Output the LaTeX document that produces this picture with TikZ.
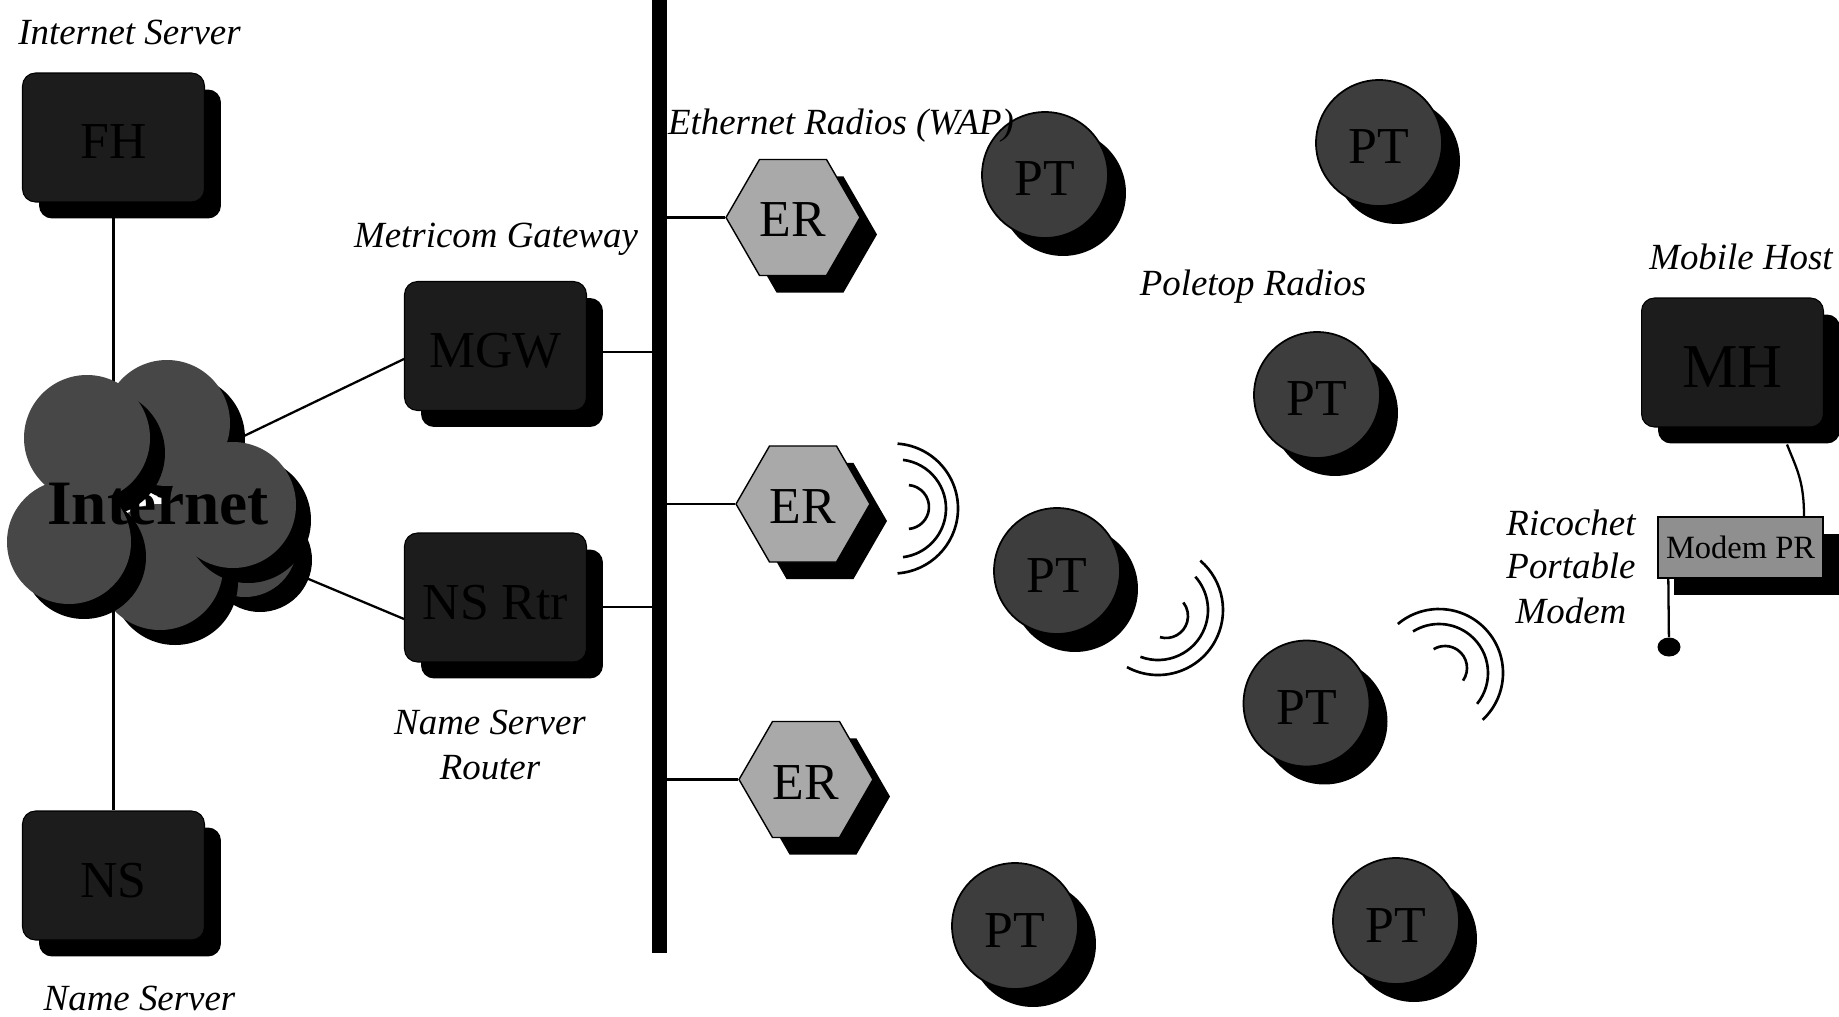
\documentclass[tikz,border=0pt]{standalone}
\usepackage{fontspec}
\setmainfont{Liberation Serif}
\usetikzlibrary{shapes.geometric,shadows,calc,backgrounds}

\definecolor{hostgray}{HTML}{1C1C1C}
\definecolor{polegray}{HTML}{3D3D3D}
\definecolor{cloudgray}{HTML}{474747}
\definecolor{radiogray}{HTML}{A9A9A9}
\definecolor{modemgray}{HTML}{8F8F8F}

\newcommand\devfont{\fontsize{29.5}{30}\selectfont}
\newcommand\lblfont{\fontsize{21}{24}\selectfont\itshape}

\tikzset{
  shadowed/.style={drop shadow={shadow xshift=#1, shadow yshift=-#1, fill=black, opacity=1}},
  host/.style={draw=black, line width=0.6pt, fill=hostgray, rounded corners=0.26cm,
    minimum width=3.64cm, minimum height=2.58cm, inner sep=0pt, font=\devfont,
    text height=0.86cm, text depth=0pt, shadowed=0.33cm},
  pole/.style={circle, draw=black, line width=1pt, fill=polegray, minimum size=2.52cm,
    inner sep=0pt, font=\devfont, text height=0.84cm, text depth=0pt, shadowed=0.36cm},
  radio/.style={regular polygon, regular polygon sides=6, draw=black, line width=0.8pt,
    fill=radiogray, minimum size=2.68cm, inner sep=0pt, font=\devfont,
    text height=0.78cm, text depth=0pt, shadowed=0.34cm},
  wire/.style={line width=1.3pt},
  wave/.style={line width=1.5pt},
  caption/.style={anchor=base, inner sep=0pt, font=\lblfont},
}

\begin{document}
\begin{tikzpicture}[x=0.02cm, y=-0.02cm]
\useasboundingbox (0,0) rectangle (1839,1017);

% the Internet cloud: overlapping shaded discs
\foreach \cx/\cy/\r in {167/423/63, 245/545/52, 160/567/63, 233/505/63, 87/438/63, 69/542/62} {
  \fill[black] (\cx+15,\cy+15) circle[radius=\r];
  \fill[cloudgray] (\cx,\cy) circle[radius=\r];
}
\node[font=\fontsize{36}{40}\selectfont\bfseries, inner sep=0pt] (internet) at (158,504) {Internet};
\coordinate (cloudNE) at (244,436);
\coordinate (cloudSE) at (299,575);

% wired hosts
\node[host] (fh)  at (113.5,137.5) {FH};
\node[host] (mgw) at (495.5,346)   {MGW};
\node[host] (nsr) at (495.5,597.5) {NS Rtr};
\node[host] (ns)  at (113.5,875.5) {NS};

% Ethernet backbone
\coordinate (bustop) at (659.5,0);
\coordinate (busbot) at (659.5,953);
\draw[line width=8.5pt] (bustop) -- (busbot);

% Ethernet radios
\node[radio] (er1) at (793,217.5) {ER};
\node[radio] (er2) at (803,504)   {ER};
\node[radio] (er3) at (806,779.5) {ER};

% poletop radios
\node[pole] (pt1) at (1045,175)    {PT};
\node[pole] (pt2) at (1379,143)    {PT};
\node[pole] (pt3) at (1317,395)    {PT};
\node[pole] (pt4) at (1057,571)    {PT};
\node[pole] (pt5) at (1306.5,703.5) {PT};
\node[pole] (pt6) at (1015,926)    {PT};
\node[pole] (pt7) at (1396,921)    {PT};

% mobile host and its modem
\node[host, font=\fontsize{35.5}{36}\selectfont, text height=1.0cm] (mh) at (1732.5,362.5) {MH};
\node[draw=black, line width=0.8pt, fill=modemgray, minimum width=3.3cm, minimum height=1.22cm,
  inner sep=0pt, font=\fontsize{18.5}{20}\selectfont,
  drop shadow={shadow xshift=0.32cm, shadow yshift=-0.34cm, fill=black, opacity=1}]
  (modem) at (1740.5,547.5) {Modem PR};
\node[ellipse, fill=black, minimum width=0.46cm, minimum height=0.38cm, inner sep=0pt] (tip) at (1669,647) {};

% radio waves
\draw[wave] ([shift={(-86:65)}]893,508.5) arc[start angle=-86, end angle=86, radius=65];
\draw[wave] ([shift={(-83:49)}]897,508.5) arc[start angle=-83, end angle=83, radius=49];
\draw[wave] ([shift={(-85:22)}]907,507) arc[start angle=-85, end angle=85, radius=22];

\draw[wave] ([shift={(118.5:65)}]1158,610) arc[start angle=118.5, end angle=-49.4, radius=65];
\draw[wave] ([shift={(110.6:50)}]1158,610) arc[start angle=110.6, end angle=-41.7, radius=50];
\draw[wave] ([shift={(106:22)}]1166,616) arc[start angle=106, end angle=-38, radius=22];

\draw[wave] ([shift={(47:64)}]1439,673) arc[start angle=47, end angle=-130, radius=64];
\draw[wave] ([shift={(39:49)}]1439,673) arc[start angle=39, end angle=-122, radius=49];
\draw[wave] ([shift={(35:22)}]1445,668) arc[start angle=35, end angle=-121, radius=22];

% captions
\node[caption] (capfh)  at (129.5,45)  {Internet Server};
\node[caption] (capmgw) at (496,247)   {Metricom Gateway};
\node[caption] (caper)  at (841,134)   {Ethernet Radios (WAP)};
\node[caption] (cappt)  at (1253,295)  {Poletop Radios};
\node[caption] (capmh)  at (1741,269)  {Mobile Host};
\node[caption] (caprm1) at (1571,535)  {Ricochet};
\node[caption] (caprm2) at (1571,578)  {Portable};
\node[caption] (caprm3) at (1571,623)  {Modem};
\node[caption] (capnr1) at (490,734)   {Name Server};
\node[caption] (capnr2) at (490,779)   {Router};
\node[caption] (capns)  at (139.5,1010) {Name Server};

% wiring, kept behind the shapes
\begin{pgfonlayer}{background}
  \draw[wire] (fh.south) -- (ns.north);
  \draw[wire] (cloudNE) -- ($(mgw.west)+(0,13)$);
  \draw[wire] (cloudSE) -- ($(nsr.west)+(0,21.5)$);
  \draw[wire] ($(mgw.east)+(0,6)$) coordinate (mgwout) -- (mgwout -| bustop);
  \draw[wire] ($(nsr.east)+(0,9.5)$) coordinate (nsrout) -- (nsrout -| bustop);
  \draw[wire] (er1.west -| bustop) -- (er1.west);
  \draw[wire] (er2.west -| bustop) -- (er2.west);
  \draw[wire] (er3.west -| bustop) -- (er3.west);
  \draw[wire] ($(mh.south)+(54.5,17)$) .. controls +(10,25) and +(0,-35) .. ($(modem.north)+(63.5,0)$);
  \draw[wire] ($(modem.south west)+(11,0)$) -- (tip);
\end{pgfonlayer}
\end{tikzpicture}
\end{document}
